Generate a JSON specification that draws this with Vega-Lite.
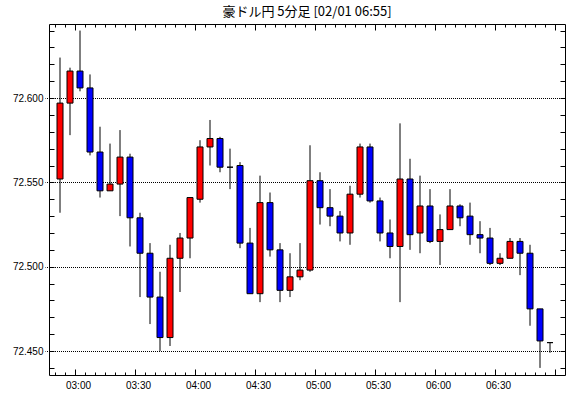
{
  "$schema": "https://vega.github.io/schema/vega-lite/v6.json",
  "autosize": {"type": "none"},
  "padding": {"left": 49, "top": 24, "right": 5, "bottom": 23},
  "width": 516,
  "height": 351,
  "background": "white",
  "title": {"text": "豪ドル円 5分足 [02/01 06:55]", "font": "Noto Sans CJK JP", "fontSize": 13, "fontWeight": "normal", "color": "black", "anchor": "middle", "offset": 5},
  "config": {
    "view": {"stroke": "black", "strokeWidth": 1},
    "axis": {"domain": false, "tickColor": "black", "tickWidth": 1, "labelColor": "black", "labelFont": "Liberation Sans", "labelFontSize": 10, "title": null}
  },
  "data": {"values": [
    {"t": "02:50", "open": 72.552, "high": 72.624, "low": 72.532, "close": 72.597},
    {"t": "02:55", "open": 72.597, "high": 72.618, "low": 72.578, "close": 72.616},
    {"t": "03:00", "open": 72.616, "high": 72.640, "low": 72.604, "close": 72.606},
    {"t": "03:05", "open": 72.606, "high": 72.614, "low": 72.566, "close": 72.568},
    {"t": "03:10", "open": 72.568, "high": 72.583, "low": 72.541, "close": 72.545},
    {"t": "03:15", "open": 72.545, "high": 72.573, "low": 72.545, "close": 72.549},
    {"t": "03:20", "open": 72.549, "high": 72.581, "low": 72.530, "close": 72.565},
    {"t": "03:25", "open": 72.565, "high": 72.567, "low": 72.512, "close": 72.529},
    {"t": "03:30", "open": 72.529, "high": 72.532, "low": 72.482, "close": 72.508},
    {"t": "03:35", "open": 72.508, "high": 72.514, "low": 72.466, "close": 72.482},
    {"t": "03:40", "open": 72.482, "high": 72.497, "low": 72.450, "close": 72.458},
    {"t": "03:45", "open": 72.458, "high": 72.513, "low": 72.453, "close": 72.505},
    {"t": "03:50", "open": 72.505, "high": 72.520, "low": 72.485, "close": 72.517},
    {"t": "03:55", "open": 72.517, "high": 72.541, "low": 72.505, "close": 72.541},
    {"t": "04:00", "open": 72.540, "high": 72.575, "low": 72.538, "close": 72.571},
    {"t": "04:05", "open": 72.571, "high": 72.587, "low": 72.560, "close": 72.576},
    {"t": "04:10", "open": 72.576, "high": 72.577, "low": 72.556, "close": 72.559},
    {"t": "04:15", "open": 72.559, "high": 72.570, "low": 72.546, "close": 72.559},
    {"t": "04:20", "open": 72.560, "high": 72.562, "low": 72.511, "close": 72.514},
    {"t": "04:25", "open": 72.514, "high": 72.523, "low": 72.484, "close": 72.484},
    {"t": "04:30", "open": 72.484, "high": 72.554, "low": 72.479, "close": 72.538},
    {"t": "04:35", "open": 72.538, "high": 72.544, "low": 72.506, "close": 72.510},
    {"t": "04:40", "open": 72.510, "high": 72.514, "low": 72.479, "close": 72.486},
    {"t": "04:45", "open": 72.486, "high": 72.508, "low": 72.482, "close": 72.494},
    {"t": "04:50", "open": 72.494, "high": 72.514, "low": 72.492, "close": 72.498},
    {"t": "04:55", "open": 72.498, "high": 72.572, "low": 72.497, "close": 72.551},
    {"t": "05:00", "open": 72.551, "high": 72.556, "low": 72.525, "close": 72.535},
    {"t": "05:05", "open": 72.535, "high": 72.546, "low": 72.524, "close": 72.530},
    {"t": "05:10", "open": 72.530, "high": 72.533, "low": 72.515, "close": 72.520},
    {"t": "05:15", "open": 72.520, "high": 72.548, "low": 72.513, "close": 72.543},
    {"t": "05:20", "open": 72.543, "high": 72.573, "low": 72.541, "close": 72.571},
    {"t": "05:25", "open": 72.571, "high": 72.573, "low": 72.538, "close": 72.539},
    {"t": "05:30", "open": 72.539, "high": 72.541, "low": 72.515, "close": 72.520},
    {"t": "05:35", "open": 72.520, "high": 72.528, "low": 72.505, "close": 72.512},
    {"t": "05:40", "open": 72.512, "high": 72.585, "low": 72.479, "close": 72.552},
    {"t": "05:45", "open": 72.552, "high": 72.564, "low": 72.510, "close": 72.519},
    {"t": "05:50", "open": 72.520, "high": 72.554, "low": 72.508, "close": 72.536},
    {"t": "05:55", "open": 72.536, "high": 72.546, "low": 72.514, "close": 72.515},
    {"t": "06:00", "open": 72.515, "high": 72.531, "low": 72.501, "close": 72.522},
    {"t": "06:05", "open": 72.522, "high": 72.546, "low": 72.522, "close": 72.536},
    {"t": "06:10", "open": 72.536, "high": 72.537, "low": 72.524, "close": 72.529},
    {"t": "06:15", "open": 72.530, "high": 72.538, "low": 72.513, "close": 72.519},
    {"t": "06:20", "open": 72.519, "high": 72.527, "low": 72.508, "close": 72.517},
    {"t": "06:25", "open": 72.517, "high": 72.523, "low": 72.501, "close": 72.502},
    {"t": "06:30", "open": 72.502, "high": 72.508, "low": 72.501, "close": 72.505},
    {"t": "06:35", "open": 72.505, "high": 72.517, "low": 72.505, "close": 72.515},
    {"t": "06:40", "open": 72.515, "high": 72.517, "low": 72.495, "close": 72.508},
    {"t": "06:45", "open": 72.508, "high": 72.513, "low": 72.465, "close": 72.475},
    {"t": "06:50", "open": 72.475, "high": 72.475, "low": 72.440, "close": 72.456},
    {"t": "06:55", "open": 72.455, "high": 72.455, "low": 72.449, "close": 72.455}
  ]},
  "layer": [
    {
      "mark": {"type": "rule", "color": "black", "strokeWidth": 1},
      "encoding": {
        "x": {
          "field": "t", "type": "ordinal", "sort": null,
          "scale": {
            "type": "band",
            "domain": ["02:45", "02:50", "02:55", "03:00", "03:05", "03:10", "03:15", "03:20", "03:25", "03:30", "03:35", "03:40", "03:45", "03:50", "03:55", "04:00", "04:05", "04:10", "04:15", "04:20", "04:25", "04:30", "04:35", "04:40", "04:45", "04:50", "04:55", "05:00", "05:05", "05:10", "05:15", "05:20", "05:25", "05:30", "05:35", "05:40", "05:45", "05:50", "05:55", "06:00", "06:05", "06:10", "06:15", "06:20", "06:25", "06:30", "06:35", "06:40", "06:45", "06:50", "06:55", "07:00"],
            "range": [-4, 516],
            "paddingInner": 0.4,
            "paddingOuter": 0.2
          },
          "axis": {
            "orient": "bottom",
            "bandPosition": 0,
            "tickOffset": -2,
            "labelAngle": 0,
            "labelExpr": "(datum.value != '07:00' && (slice(datum.value, 3) == '00' || slice(datum.value, 3) == '30')) ? datum.value : ''",
            "labelOverlap": false,
            "labelFlush": false,
            "labelPadding": 11,
            "tickSize": {"condition": {"test": "slice(datum.value, 3) == '00' || slice(datum.value, 3) == '30'", "value": -6}, "value": -3},
            "tickOpacity": {"condition": {"test": "datum.value == '02:45'", "value": 0}, "value": 1},
            "grid": false
          }
        },
        "y": {
          "field": "low", "type": "quantitative",
          "scale": {"domain": [72.4358, 72.6439], "nice": false, "zero": false},
          "axis": {
            "orient": "left",
            "values": [72.44, 72.45, 72.46, 72.47, 72.48, 72.49, 72.5, 72.51, 72.52, 72.53, 72.54, 72.55, 72.56, 72.57, 72.58, 72.59, 72.6, 72.61, 72.62, 72.63, 72.64],
            "tickCount": 100,
            "labelExpr": "abs(datum.value*20 - round(datum.value*20)) < 0.001 ? format(datum.value, '.3f') : ''",
            "labelOverlap": false,
            "tickSize": -5,
            "labelPadding": 11,
            "grid": true,
            "gridColor": "black",
            "gridDash": [1, 1],
            "gridDashOffset": 0.5,
            "gridWidth": 1,
            "gridOpacity": {"condition": {"test": "abs(datum.value*20 - round(datum.value*20)) < 0.001", "value": 1}, "value": 0}
          }
        },
        "y2": {"field": "high"}
      }
    },
    {
      "mark": {"type": "bar", "stroke": "black", "strokeWidth": 1},
      "encoding": {
        "x": {
          "field": "t", "type": "ordinal", "sort": null,
          "axis": {
            "orient": "top",
            "bandPosition": 0,
            "tickOffset": -2,
            "labels": false,
            "tickSize": {"condition": {"test": "slice(datum.value, 3) == '00' || slice(datum.value, 3) == '30'", "value": -6}, "value": -3},
            "tickOpacity": {"condition": {"test": "datum.value == '02:45'", "value": 0}, "value": 1},
            "grid": false
          }
        },
        "y": {
          "field": "open", "type": "quantitative",
          "axis": {
            "orient": "right",
            "values": [72.44, 72.45, 72.46, 72.47, 72.48, 72.49, 72.5, 72.51, 72.52, 72.53, 72.54, 72.55, 72.56, 72.57, 72.58, 72.59, 72.6, 72.61, 72.62, 72.63, 72.64],
            "tickCount": 100,
            "labels": false,
            "tickSize": -5,
            "grid": false
          }
        },
        "y2": {"field": "close"},
        "fill": {"condition": {"test": "datum.close > datum.open", "value": "#ff0000"}, "value": "#0000ff"}
      }
    }
  ],
  "resolve": {"axis": {"x": "independent", "y": "independent"}}
}
